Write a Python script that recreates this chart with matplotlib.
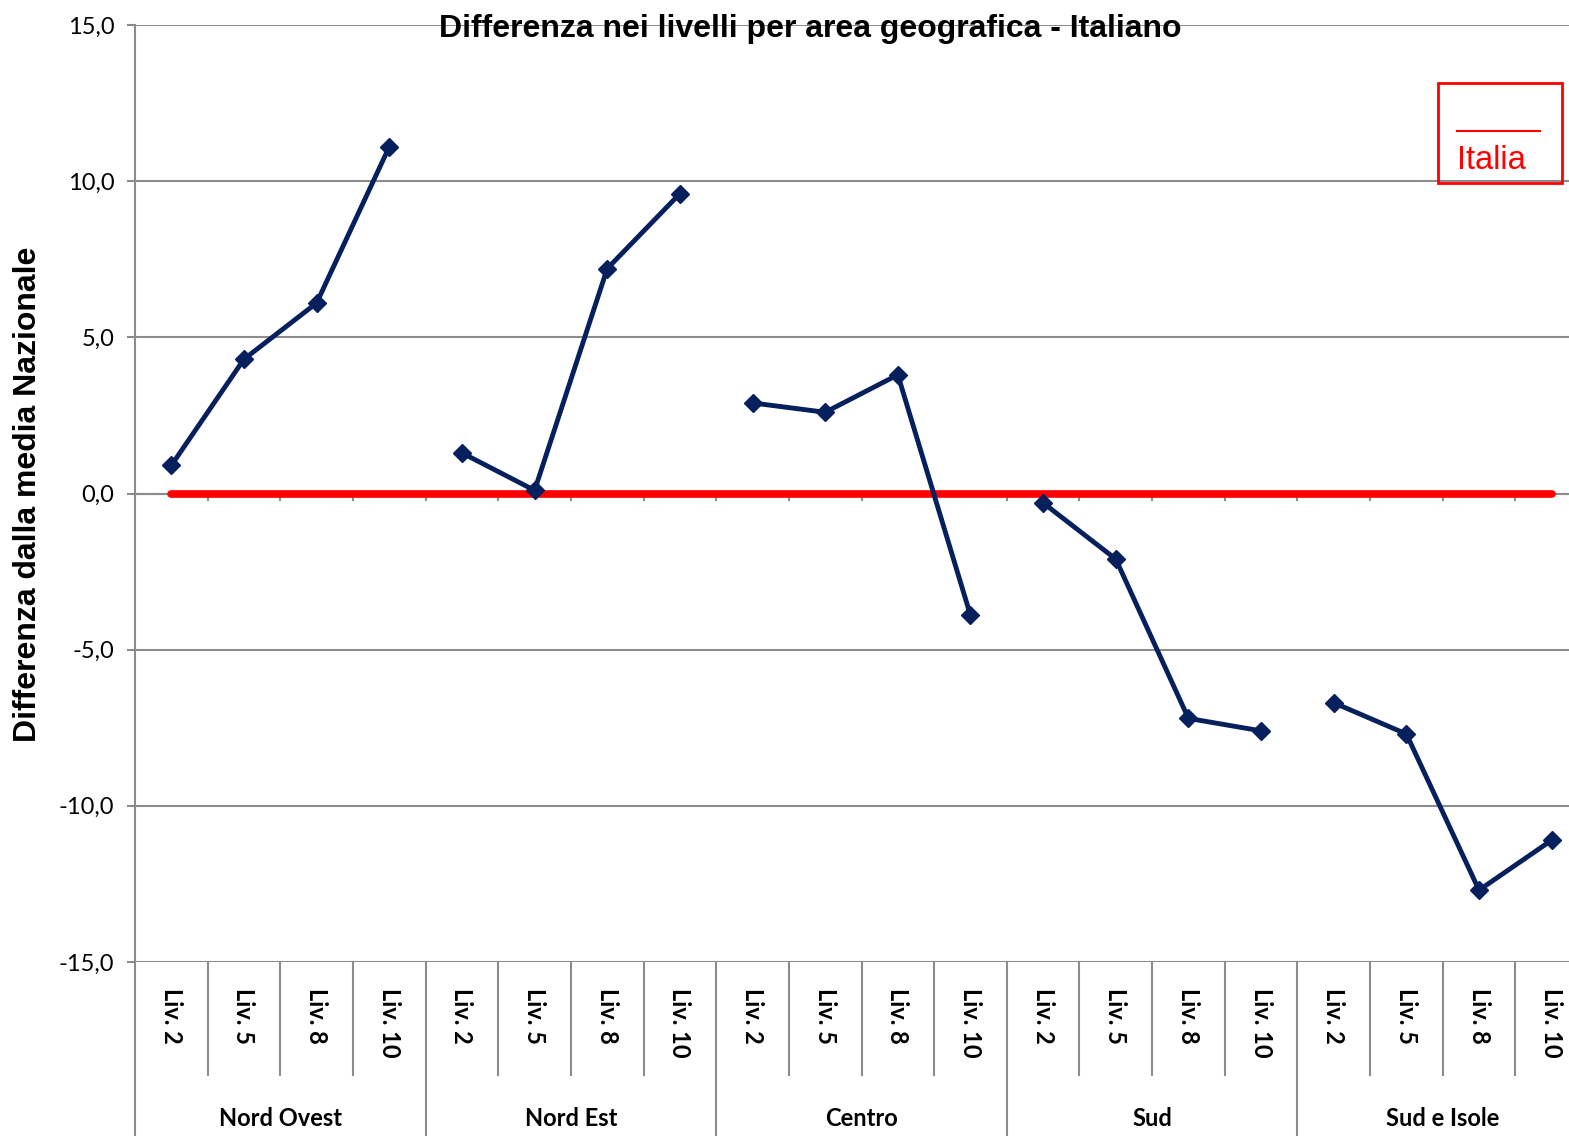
import matplotlib
matplotlib.use("Agg")
import matplotlib.pyplot as plt
from matplotlib.patches import Rectangle
from matplotlib.lines import Line2D
from matplotlib.ticker import FuncFormatter, FixedLocator
import numpy as np

# dati
aree = ["Nord Ovest", "Nord Est", "Centro", "Sud", "Sud e Isole"]
livelli = ["Liv. 2", "Liv. 5", "Liv. 8", "Liv. 10"]
nord_ovest = [0.9, 4.3, 6.1, 11.1]
nord_est = [1.3, 0.1, 7.2, 9.6]
centro = [2.9, 2.6, 3.8, -3.9]
sud = [-0.3, -2.1, -7.2, -7.6]
sud_isole = [-6.7, -7.7, -12.7, -11.1]
serie = [nord_ovest, nord_est, centro, sud, sud_isole]
italia = [0.0] * 20

W, H = 1569, 1136
fig = plt.figure(figsize=(W / 100, H / 100), dpi=100)
# posizione dell'area del grafico in pixel (a destra esce dall'immagine)
x0, x1, y0, y1 = 135, 1588, 25, 962
ax = fig.add_axes([x0 / W, 1 - y1 / H, (x1 - x0) / W, (y1 - y0) / H])

grigio = "#8c8c8c"
blu = "#06205e"
n = len(livelli)

# linea di riferimento nazionale
ax.plot(range(len(italia)), italia, color="red", lw=5.5, solid_capstyle="round", zorder=3)

for i, valori in enumerate(serie):
    xs = np.arange(n) + i * n
    ax.plot(xs, valori, color=blu, lw=3.5, marker="D", markersize=9, zorder=4)

ax.set_xlim(-0.5, 19.5)
ax.set_ylim(-15, 15)
ax.set_yticks(np.arange(-15, 16, 5))
ax.yaxis.set_major_formatter(FuncFormatter(lambda v, p: f"{v:.1f}".replace(".", ",")))
ax.grid(axis="y", color=grigio, lw=1.5)
ax.set_axisbelow(True)

for s in ["top", "right"]:
    ax.spines[s].set_visible(False)
ax.spines["left"].set_color(grigio)
ax.spines["left"].set_linewidth(1.5)
ax.spines["bottom"].set_position(("data", 0))
ax.spines["bottom"].set_color(grigio)
ax.spines["bottom"].set_linewidth(1.5)

ax.xaxis.set_major_locator(FixedLocator(np.arange(0.5, 19.6, 1)))
ax.tick_params(axis="x", direction="out", length=5, width=1.5, color=grigio, labelbottom=False)
ax.tick_params(axis="y", direction="out", length=6, width=1.5, color=grigio, pad=9,
               labelsize=17)
for t in ax.get_yticklabels():
    t.set_fontfamily("Lato")

# asse delle categorie a due livelli
trans = ax.get_xaxis_transform()
h_ax = y1 - y0
y_sep = -(1075 - y1) / h_ax
y_fondo = -(H - y1 + 2) / h_ax
for k in range(21):
    xb = k - 0.5
    fondo = y_fondo if k % n == 0 else y_sep
    ax.plot([xb, xb], [0, fondo], color=grigio, lw=1.5, transform=trans, clip_on=False)

for k in range(20):
    ax.text(k, -(988 - y1) / h_ax, livelli[k % n], rotation=-90, ha="center", va="top",
            fontsize=17, fontweight="bold", family="Lato", transform=trans)

for i, area in enumerate(aree):
    ax.text(i * n + 1.5, -(1119 - y1) / h_ax, area, ha="center", va="center",
            fontsize=17, fontweight="bold", family="Lato", transform=trans)

fig.text(810 / W, 1 - 29 / H, "Differenza nei livelli per area geografica - Italiano",
         ha="center", va="center", fontsize=23, fontweight="bold", family="Liberation Sans")
fig.text(28 / W, 1 - 494 / H, "Differenza dalla media Nazionale", rotation=90,
         ha="center", va="center", fontsize=23, fontweight="bold", family="Liberation Sans")

# legenda
fig.patches.append(Rectangle((1438 / W, 1 - 183 / H), 124 / W, 100 / H, fill=False,
                             edgecolor="red", lw=2, transform=fig.transFigure))
fig.lines.append(Line2D([1457 / W, 1540 / W], [1 - 131 / H, 1 - 131 / H], color="red",
                        lw=1.5, transform=fig.transFigure))
fig.text(1457 / W, 1 - 169 / H, "Italia", color="red", ha="left", va="baseline",
         fontsize=23.5, family="Liberation Sans")

fig.savefig("out.png", dpi=100)
